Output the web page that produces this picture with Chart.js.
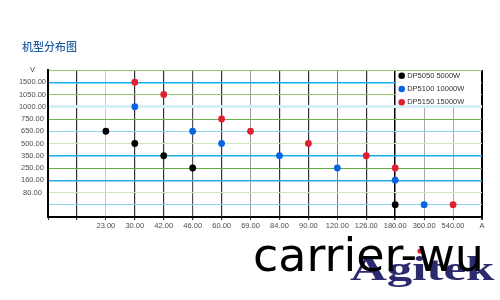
<!DOCTYPE html>
<html><head><meta charset="utf-8">
<script src="https://cdn.jsdelivr.net/npm/chart.js@4"></script>
<style>
html,body{margin:0;padding:0;background:#fff;}
canvas{display:block;}
</style></head><body>
<canvas id="c" width="500" height="300"></canvas>
<script>
// ---- data ----
const chartTitle = '机型分布图';
const xLabels = ['', ' ', '23.00', '30.00', '42.00', '46.00', '60.00', '69.00', '84.00', '90.00', '120.00', '126.00', '180.00', '360.00', '540.00', 'A'];
const yLabels = ['', ' ', '80.00', '160.00', '250.00', '350.00', '500.00', '650.00', '750.00', '1000.00', '1050.00', '1500.00', 'V'];
const seriesNames = ['DP5050 5000W', 'DP5100 10000W', 'DP5150 15000W'];
const dp5050Current = ['23.00', '30.00', '42.00', '46.00', '180.00'];
const dp5050Voltage = ['650.00', '500.00', '350.00', '250.00', ' '];
const dp5100Current = ['30.00', '46.00', '60.00', '84.00', '120.00', '180.00', '360.00'];
const dp5100Voltage = ['1000.00', '650.00', '500.00', '350.00', '250.00', '160.00', ' '];
const dp5150Current = ['30.00', '42.00', '60.00', '69.00', '90.00', '126.00', '180.00', '540.00'];
const dp5150Voltage = ['1500.00', '1050.00', '750.00', '650.00', '500.00', '350.00', '250.00', ' '];

// ---- styles ----
const seriesColors = ['#000000', '#0a64e6', '#e0202e'];
const xGridColors = ['#000', '#333', '#c8c8c8', '#333', '#333', '#555', '#333', '#9a9a9a', '#333', '#333', '#777', '#333', '#000', '#aaa', '#aaa', '#000'];
const xGridWidths = [1, 1.2, 1, 1.2, 1.2, 1.2, 1.2, 1, 1.2, 1.2, 1, 1.2, 1.5, 1, 1, 2];
const yGridColors = ['#000', '#8fd3f2', '#cfe5bb', '#2aa9e0', '#5fab3f', '#1aaee8', '#cfe5bb', '#8fd3f2', '#6db24c', '#d6eef8', '#8fca6e', '#1aaee8', '#8fca6e'];
const yGridWidths = [1, 1, 1, 1.5, 1, 1.5, 1, 1, 1, 3, 1, 1.5, 1];

function toPoints(cur, volt) {
  return cur.map((c, i) => ({ x: xLabels.indexOf(c), y: yLabels.indexOf(volt[i]) }));
}
const seriesData = [
  toPoints(dp5050Current, dp5050Voltage),
  toPoints(dp5100Current, dp5100Voltage),
  toPoints(dp5150Current, dp5150Voltage)
];

const FONT = '"Liberation Sans", Arial, sans-serif';

const titlePlugin = {
  id: 'leftTitle',
  afterDraw(chart) {
    const ctx = chart.ctx;
    ctx.save();
    ctx.fillStyle = '#1f5fa8';
    ctx.font = '500 11px "Noto Sans CJK SC", sans-serif';
    ctx.textBaseline = 'middle';
    ctx.textAlign = 'left';
    ctx.fillText(chartTitle, 22, 47);
    ctx.restore();
  }
};

const legendPlugin = {
  id: 'innerLegend',
  beforeDatasetsDraw(chart) {
    const { ctx, chartArea, scales } = chart;
    const left = scales.x.getPixelForValue(xLabels.indexOf('180.00')) + 1;
    const right = chartArea.right - 1;
    const top = chartArea.top + 1;
    const bottom = scales.y.getPixelForValue(yLabels.indexOf('1000.00')) - 2;
    ctx.save();
    ctx.fillStyle = '#fff';
    ctx.fillRect(left, top, right - left, bottom - top);
    ctx.font = '7.5px ' + FONT;
    ctx.textBaseline = 'middle';
    ctx.textAlign = 'left';
    chart.data.datasets.forEach((ds, i) => {
      const y = top + 4.8 + i * 13.2;
      ctx.fillStyle = ds.backgroundColor;
      ctx.beginPath();
      ctx.arc(left + 5.5, y, 3.3, 0, Math.PI * 2);
      ctx.fill();
      ctx.fillStyle = '#333';
      ctx.fillText(ds.label, left + 11, y);
    });
    ctx.restore();
  }
};

const watermarkPlugin = {
  id: 'watermark',
  afterDraw(chart) {
    const ctx = chart.ctx;
    ctx.save();
    ctx.textBaseline = 'alphabetic';
    ctx.textAlign = 'left';
    ctx.save();
    ctx.translate(350, 280);
    ctx.scale(1.5, 1);
    ctx.fillStyle = '#2a2a6c';
    ctx.font = 'bold 34px "Liberation Serif", serif';
    ctx.fillText('Agitek', 0, 0);
    ctx.restore();
    ctx.fillStyle = '#e0202e';
    ctx.beginPath();
    ctx.arc(420, 251, 2.6, 0, Math.PI * 2);
    ctx.fill();
    ctx.fillStyle = '#000';
    ctx.font = '46px "DejaVu Sans", sans-serif';
    ctx.fillText('carrier-wu', 253, 271);
    ctx.restore();
  }
};

new Chart(document.getElementById('c'), {
  type: 'scatter',
  data: {
    datasets: seriesNames.map((n, i) => ({
      label: n,
      data: seriesData[i],
      backgroundColor: seriesColors[i],
      borderColor: seriesColors[i],
      pointRadius: 3.4,
      pointBorderWidth: 0,
      showLine: false
    }))
  },
  options: {
    responsive: false,
    animation: false,
    events: [],
    layout: { padding: { left: 8, right: 18, top: 70, bottom: 69 } },
    plugins: {
      legend: { display: false },
      tooltip: { enabled: false },
      title: { display: false }
    },
    scales: {
      x: {
        type: 'linear',
        min: 0, max: xLabels.length - 1,
        border: { color: '#000', width: 2 },
        grid: {
          color: (c) => xGridColors[c.index] || '#333',
          lineWidth: (c) => xGridWidths[c.index] || 1,
          tickColor: '#333',
          tickLength: 3
        },
        ticks: {
          stepSize: 1, autoSkip: false, maxRotation: 0, minRotation: 0,
          padding: 1,
          color: '#4d4d4d',
          font: { family: FONT, size: 7.5 },
          callback: (v) => xLabels[v] ?? ''
        }
      },
      y: {
        type: 'linear',
        min: 0, max: yLabels.length - 1,
        border: { color: '#000', width: 2 },
        afterFit: (s) => { s.width = 40; },
        grid: {
          color: (c) => yGridColors[c.index] || '#ccc',
          lineWidth: (c) => yGridWidths[c.index] || 1,
          drawTicks: false
        },
        ticks: {
          stepSize: 1, autoSkip: false,
          padding: 2,
          crossAlign: 'center',
          color: '#4d4d4d',
          font: { family: FONT, size: 7.5 },
          callback: (v) => yLabels[v] ?? ''
        }
      }
    }
  },
  plugins: [legendPlugin, titlePlugin, watermarkPlugin]
});
</script>
</body></html>
